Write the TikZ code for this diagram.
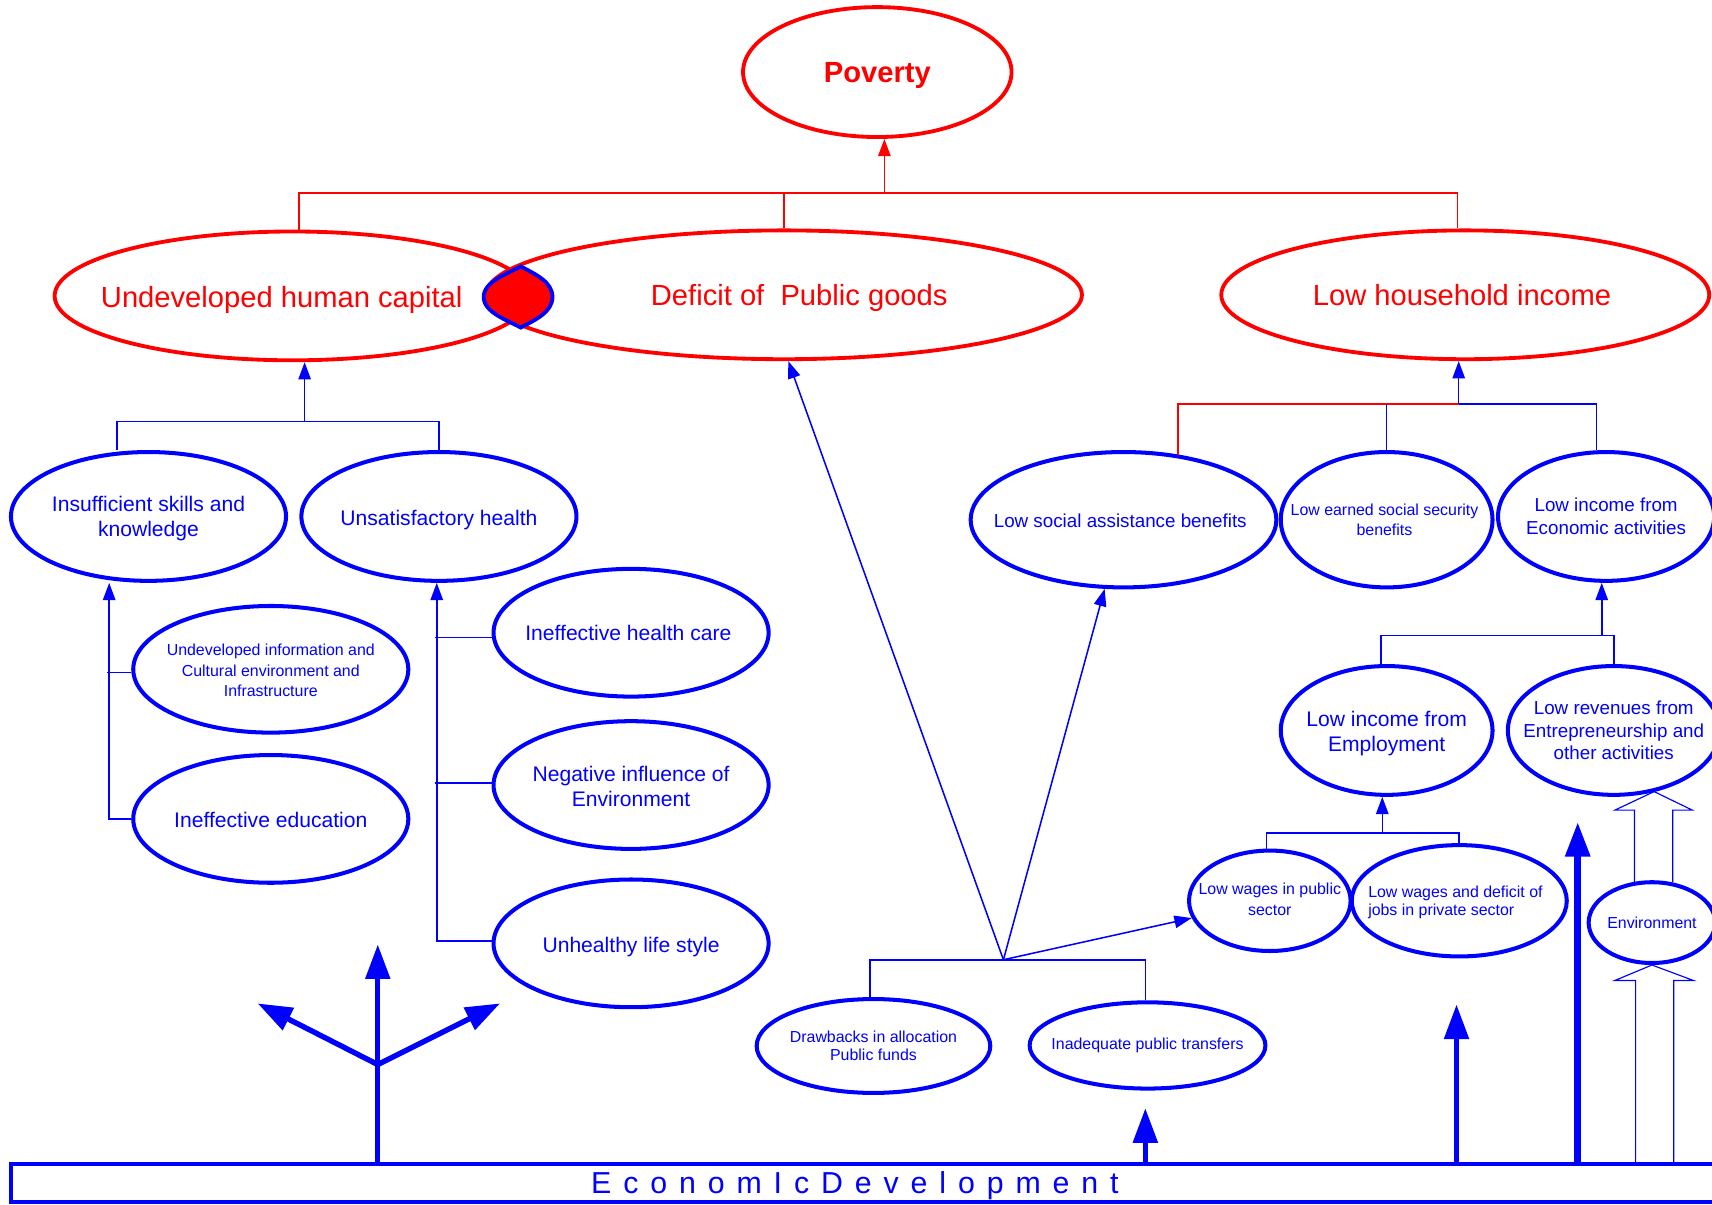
\documentclass[tikz,border=0pt]{standalone}
\usepackage{fontspec}
\setmainfont{Liberation Sans}
\usetikzlibrary{shapes.geometric,arrows.meta,calc}
\newcommand\lsp{\hspace{6.2pt}}
\begin{document}
\begin{tikzpicture}[x=0.02cm,y=-0.02cm,
  ell/.style={ellipse, draw=blue, line width=2.1pt, inner sep=0pt},
  rell/.style={ellipse, draw=red, line width=2pt, inner sep=0pt},
  bigtxt/.style={text=red, font=\fontsize{15.2}{18}\selectfont},
  t11/.style={text=blue, align=center, font=\fontsize{11}{13}\selectfont},
  t10/.style={text=blue, align=center, font=\fontsize{9.8}{12}\selectfont},
  t8/.style={text=blue, align=center, font=\fontsize{8.3}{10.8}\selectfont},
  thinb/.style={draw=blue, line width=0.8pt},
  thinr/.style={draw=red, line width=0.8pt},
  tarr/.style={-{Triangle[length=9pt,width=6.5pt]}},
  bigarr/.style={draw=blue, line width=2.8pt, -{Triangle[length=18pt,width=12.5pt]}},
  hollow/.style={draw=blue, line width=0.6pt},
]
\useasboundingbox (0,0) rectangle (1568,1103);
\begin{scope}
\clip (0,0) rectangle (1568,1103);

% top level
\node[rell, minimum width=4.92cm, minimum height=2.38cm,
  label={[text=red, yshift=-0.06cm, font=\fontsize{15.2}{18}\selectfont\bfseries]center:Poverty}] (pov) at (803.5,66) {};
\node[rell, minimum width=8.72cm, minimum height=2.36cm,
  label={[bigtxt, xshift=-0.2cm, yshift=-0.07cm]center:Undeveloped human capital}] (uhc) at (268,271) {};
\node[rell, minimum width=10.92cm, minimum height=2.36cm,
  label={[bigtxt, xshift=0.28cm, yshift=-0.06cm]center:Deficit of\ \ Public goods}] (dpg) at (718,270) {};
\node[rell, minimum width=8.94cm, minimum height=2.36cm,
  label={[bigtxt, xshift=-0.06cm]center:Low household income}] (lhi) at (1342,270) {};

% lens between the two ellipses
\path[fill=red, draw=blue, line width=2pt]
  (477,244) .. controls (464,251) and (443,258) .. (443,272)
  .. controls (443,286) and (464,293) .. (477,300)
  .. controls (490,293) and (506,286) .. (506,272)
  .. controls (506,258) and (490,251) .. (477,244) -- cycle;

% left branch
\node[ell, minimum width=5.04cm, minimum height=2.36cm,
  label={[t11, yshift=-0.04cm]center:Insufficient skills and\\knowledge}] (isk) at (136,473) {};
\node[ell, minimum width=5.04cm, minimum height=2.36cm,
  label={[t11, yshift=-0.06cm]center:Unsatisfactory health}] (uh) at (402,473) {};
\node[ell, minimum width=5.04cm, minimum height=2.32cm,
  label={[t8, yshift=-0.02cm]center:Undeveloped information and\\Cultural environment and\\Infrastructure}] (uic) at (248,613) {};
\node[ell, minimum width=5.04cm, minimum height=2.34cm,
  label={[t11, yshift=-0.02cm]center:Ineffective education}] (iedu) at (248,750) {};
\node[ell, minimum width=5.04cm, minimum height=2.34cm,
  label={[t11, xshift=-0.05cm]center:Ineffective health care}] (ihc) at (578,579.5) {};
\node[ell, minimum width=5.04cm, minimum height=2.34cm,
  label={[t11, yshift=-0.03cm]center:Negative influence of\\Environment}] (nie) at (578,719) {};
\node[ell, minimum width=5.04cm, minimum height=2.34cm,
  label={[t11, yshift=-0.06cm]center:Unhealthy life style}] (uls) at (578,864) {};

% right branch
\node[ell, minimum width=5.6cm, minimum height=2.48cm,
  label={[t10, xshift=-0.06cm, yshift=-0.02cm]center:Low social assistance benefits}] (lsab) at (1029,476) {};
\node[ell, minimum width=3.88cm, minimum height=2.48cm,
  label={[t8, xshift=-0.04cm]center:Low earned social security\\benefits}] (less) at (1270,476) {};
\node[ell, minimum width=3.96cm, minimum height=2.36cm,
  label={[t10]center:Low income from\\Economic activities}] (lie) at (1471,473) {};
\node[ell, minimum width=3.88cm, minimum height=2.36cm,
  label={[t11, yshift=-0.06cm]center:Low income from\\Employment}] (lemp) at (1270,669) {};
\node[ell, minimum width=3.88cm, minimum height=2.36cm,
  label={[t10, font=\fontsize{9.8}{11.6}\selectfont]center:Low revenues from\\Entrepreneurship and\\other activities}] (lrev) at (1478,669) {};
\node[ell, minimum width=2.96cm, minimum height=1.84cm,
  label={[t8, yshift=0.03cm]center:Low wages in public\\sector}] (lwp) at (1163,825) {};
\node[ell, minimum width=3.94cm, minimum height=2.04cm,
  label={[t8, align=left, xshift=-0.07cm, yshift=-0.03cm, font=\fontsize{8.3}{9.6}\selectfont]center:Low wages and deficit of\\jobs in private sector}] (lwd) at (1336.5,825) {};
\node[ell, minimum width=2.32cm, minimum height=1.48cm,
  label={[t8]center:Environment}] (env) at (1513,845) {};

% centre bottom
\node[ell, minimum width=4.28cm, minimum height=1.72cm,
  label={[t8, font=\fontsize{8.3}{9.6}\selectfont]center:Drawbacks in allocation\\Public funds}] (dra) at (800,958) {};
\node[ell, minimum width=4.32cm, minimum height=1.58cm,
  label={[t8]center:Inadequate public transfers}] (inad) at (1051,957.5) {};

% base box
\node[draw=blue, line width=1.8pt, minimum width=31.4cm, minimum height=0.7cm,
  inner sep=0pt, outer sep=0pt] (econ) at (795,1083.5) {};
\node[text=blue, font=\fontsize{15.8}{19}\selectfont, anchor=base] (econtxt) at (783,1093)
  {E\lsp c\lsp o\lsp n\lsp o\lsp m\lsp I\lsp c\lsp D\lsp e\lsp v\lsp e\lsp l\lsp o\lsp p\lsp m\lsp e\lsp n\lsp t};

% red tree to poverty
\coordinate (rj) at (810,177);
\draw[thinr] ([xshift=0.12cm]uhc.north) |- (rj) -| ([xshift=-0.14cm]lhi.north);
\draw[thinr] (dpg.north) -- (dpg.north |- rj);
\draw[thinr, tarr] (rj) -- (rj |- pov.south);

% left tree
\coordinate (lj) at (279,386);
\draw[thinb] ([xshift=-0.58cm]isk.north) |- (lj) -| (uh.north);
\draw[thinb, tarr] (lj) -- (lj |- uhc.south);
\draw[thinb, tarr] (iedu.west) -| ([xshift=-0.72cm]isk.south);
\draw[thinb] ([yshift=-0.06cm]uic.west) -- ++(-22,0);
\draw[thinb, tarr] ([yshift=0.04cm]uls.west) -| ([xshift=-0.04cm]uh.south);
\draw[thinb] ([yshift=-0.09cm]ihc.west) -- ++(-52,0);
\draw[thinb] ([yshift=0.04cm]nie.west) -- ++(-52,0);

% centre fan
\coordinate (cj) at (919,879);
\draw[thinb] ([xshift=-0.06cm]dra.north) |- (cj) -| ([xshift=-0.04cm]inad.north);
\draw[thinb, tarr] (cj) -- ([xshift=0.08cm]dpg.south);
\draw[thinb, tarr] (cj) -- (lsab);
\draw[thinb, tarr] (cj) -- (lwp);

% right trees
\coordinate (rrj) at (1336,370);
\draw[thinr] (lsab.50.4) |- (rrj);
\draw[thinb] (less.north) -- (less.north |- rrj);
\draw[thinb] (rrj) -| ([xshift=-0.18cm]lie.north);
\draw[thinb, tarr] (rrj) -- (rrj |- lhi.south);

\coordinate (ej) at (1467,582);
\draw[thinb] ([xshift=-0.1cm]lemp.north) |- (ej) -| (lrev.north);
\draw[thinb, tarr] (ej) -- (ej |- lie.south);

\coordinate (wj) at (1266,763);
\draw[thinb] ([xshift=-0.06cm]lwp.north) |- (wj) -| (lwd.north);
\draw[thinb, tarr] (wj) -- (wj |- lemp.south);

% thick arrows from the base
\coordinate (a1) at (1049,1015);
\coordinate (a2) at (1334,920);
\coordinate (a3) at (1445,753);
\draw[bigarr] (a1 |- econ.north) -- (a1);
\draw[bigarr] (a2 |- econ.north) -- (a2);
\draw[bigarr, line width=3.4pt] (a3 |- econ.north) -- (a3);

\coordinate (fk) at (346,975);
\coordinate (fu) at (346,865);
\coordinate (fl) at (236,919);
\coordinate (fr) at (458,919);
\draw[bigarr] (fk |- econ.north) -- (fu);
\draw[bigarr] (fk) -- (fl);
\draw[bigarr] (fk) -- (fr);

% hollow arrows
\draw[hollow] (1498,1066) -- (1498,898) -- (1479,898) -- (env.south) -- (1551,898) -- (1533,898) -- (1533,1066);
\draw[hollow] (1497,808) -- (1497,742) -- (1479,742) -- (1515,725) -- (1550,742) -- (1532,742) -- (1532,808);
\end{scope}
\end{tikzpicture}
\end{document}
